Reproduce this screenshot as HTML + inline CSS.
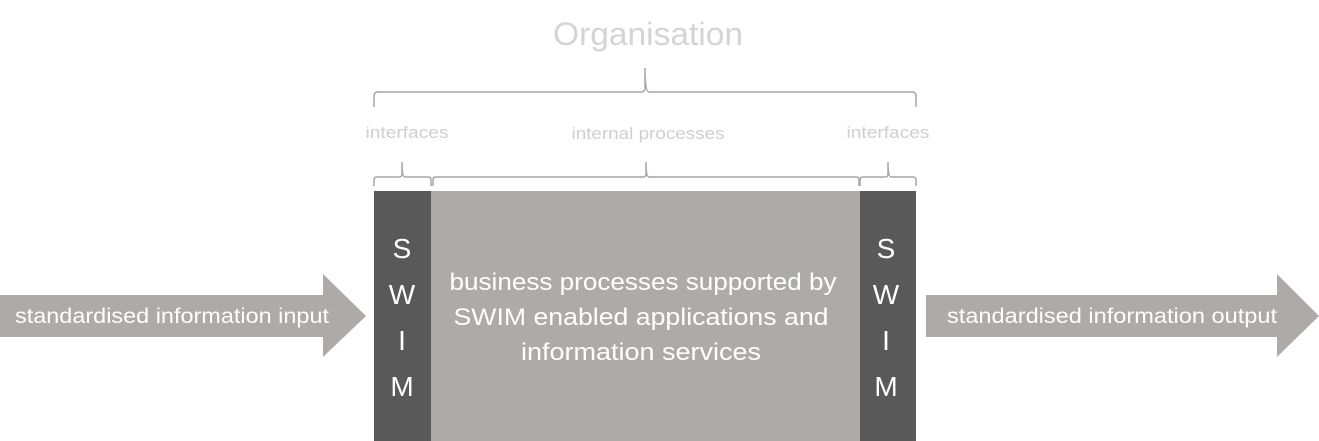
<!DOCTYPE html>
<html><head><meta charset="utf-8"><style>
html,body{margin:0;padding:0;background:#fff;}
svg{display:block;}
text{font-family:"Liberation Sans",sans-serif;}
</style></head><body>
<svg width="1319" height="441" viewBox="0 0 1319 441" xmlns="http://www.w3.org/2000/svg">
<rect width="1319" height="441" fill="#fff"/>
<text x="648" y="45" font-size="32" fill="#d4d4d4" text-anchor="middle" textLength="190" lengthAdjust="spacingAndGlyphs">Organisation</text>
<g fill="none" stroke="#a6a6a6" stroke-width="1.5">
<path d="M374,107 V96 Q374,92 378,92 H641 Q645,92 645,88 V68 Q645,92 649,92 H912 Q916,92 916,96 V107"/>
<path d="M374,186 V180 Q374,177 377,177 H399 Q402,177 402,174 V162 Q402,177 405,177 H428 Q431,177 431,180 V186"/>
<path d="M433,186 V180 Q433,177 436,177 H643 Q646,177 646,174 V162 Q646,177 649,177 H856 Q859,177 859,180 V186"/>
<path d="M860,186 V180 Q860,177 863,177 H885 Q888,177 888,174 V162 Q888,177 891,177 H913 Q916,177 916,180 V186"/>
</g>
<g font-size="17" fill="#cfcfcf" text-anchor="middle">
<text x="407" y="138" textLength="83" lengthAdjust="spacingAndGlyphs">interfaces</text>
<text x="648" y="139" textLength="153" lengthAdjust="spacingAndGlyphs">internal processes</text>
<text x="888" y="138" textLength="83" lengthAdjust="spacingAndGlyphs">interfaces</text>
</g>
<rect x="374" y="191" width="57" height="250" fill="#595959"/>
<rect x="431" y="191" width="429" height="250" fill="#aeaaa9"/>
<rect x="860" y="191" width="56" height="250" fill="#595959"/>
<g font-size="28" fill="#fff" text-anchor="middle">
<text x="402" y="258">S</text><text x="402" y="304">W</text><text x="402" y="350">I</text><text x="402" y="396">M</text>
<text x="886" y="258">S</text><text x="886" y="304">W</text><text x="886" y="350">I</text><text x="886" y="396">M</text>
</g>
<g font-size="24" fill="#fff" text-anchor="middle">
<text x="643" y="290" textLength="387" lengthAdjust="spacingAndGlyphs">business processes supported by</text>
<text x="641" y="325" textLength="375" lengthAdjust="spacingAndGlyphs">SWIM enabled applications and</text>
<text x="641" y="360" textLength="240" lengthAdjust="spacingAndGlyphs">information services</text>
</g>
<polygon points="0,295 323,295 323,274 366,316 323,357 323,337 0,337" fill="#aeaaa9"/>
<polygon points="926,295 1277,295 1277,274 1319,316 1277,357 1277,337 926,337" fill="#aeaaa9"/>
<text x="172" y="323" font-size="21" fill="#fff" text-anchor="middle" textLength="314" lengthAdjust="spacingAndGlyphs">standardised information input</text>
<text x="1112" y="323" font-size="21" fill="#fff" text-anchor="middle" textLength="330" lengthAdjust="spacingAndGlyphs">standardised information output</text>
</svg>
</body></html>
